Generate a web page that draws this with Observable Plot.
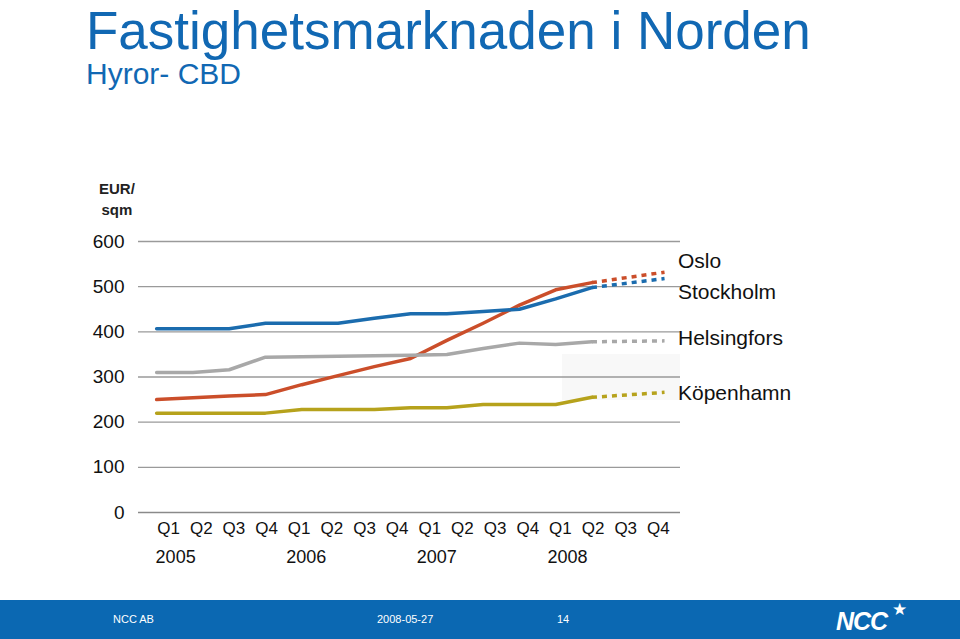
<!DOCTYPE html>
<html>
<head>
<meta charset="utf-8">
<script src="https://cdn.jsdelivr.net/npm/d3@7"></script>
<script src="https://cdn.jsdelivr.net/npm/@observablehq/plot@0.6"></script>
<style>
  html, body { margin: 0; padding: 0; background: #fff; }
  #page { position: relative; width: 960px; height: 639px; overflow: hidden; font-family: "Liberation Sans", Arial, Helvetica, sans-serif; }
  .abs { position: absolute; white-space: nowrap; }
  #title { left: 86px; top: 4px; font-size: 53px; line-height: 53px; color: #1168b3; }
  #subtitle { left: 86px; top: 58px; font-size: 30px; line-height: 32px; color: #1168b3; }
  #unit { left: 99px; top: 178px; font-size: 15px; font-weight: bold; color: #222; line-height: 21px; text-align: center; }
  #shade { left: 562px; top: 354px; width: 118px; height: 46px; background: #f8f8f8; }
  #chart { left: 0; top: 160px; }
  .leg { font-size: 21px; color: #111; left: 678px; }
  #footer { left: 0; top: 600px; width: 960px; height: 39px; background: #0b68b2; color: #fff; }
  #footer .ft { position: absolute; top: 13px; font-size: 11px; }
  #logo { position: absolute; left: 836px; top: 7px; font-size: 25px; line-height: 28px; font-weight: bold; font-style: italic; letter-spacing: -1px; }
  #star { position: absolute; left: 892px; top: 1px; font-size: 17px; line-height: 17px; }
</style>
</head>
<body>
<div id="page">
  <div id="title" class="abs">Fastighetsmarknaden i Norden</div>
  <div id="subtitle" class="abs">Hyror- CBD</div>
  <div id="unit" class="abs">EUR/<br>sqm</div>
  <div id="shade" class="abs"></div>
  <div id="chart" class="abs"></div>
  <div class="abs leg" style="top:249px">Oslo</div>
  <div class="abs leg" style="top:280px">Stockholm</div>
  <div class="abs leg" style="top:326px">Helsingfors</div>
  <div class="abs leg" style="top:381px">Köpenhamn</div>
  <div id="footer" class="abs">
    <span class="ft" style="left:113px">NCC AB</span>
    <span class="ft" style="left:377px">2008-05-27</span>
    <span class="ft" style="left:557px">14</span>
    <span id="logo">NCC</span><span id="star">★</span>
  </div>
</div>
<script>
// ---- data (quarter index 0 = Q1 2005) ----
const quarterIdx = [0,1,2,3,4,5,6,7,8,9,10,11,12];
const oslo        = [250,254,258,261,283,303,323,341,381,419,459,493,509];
const stockholm   = [407,407,407,419,419,419,430,440,440,445,450,473,498];
const helsingfors = [310,310,316,344,345,346,347,348,350,363,375,372,378];
const kopenhamn   = [220,220,220,220,228,228,228,232,232,239,239,239,255];
// forecast (dotted) from Q1 2008 onward
const forecastIdx = [12,14];
const osloF        = [509,532];
const stockholmF   = [498,518];
const helsingforsF = [378,380];
const kopenhamnF   = [255,266];

const cities = ["Oslo","Stockholm","Helsingfors","Köpenhamn"];
const colors = ["#cb4e2a","#1b6cae","#a8a8a8","#b6a21c"];
const yTicks = [0,100,200,300,400,500,600];
const quarterNames = ["Q1","Q2","Q3","Q4"];
const years = ["2005","2006","2007","2008"];

const series = [oslo, stockholm, helsingfors, kopenhamn];
const seriesF = [osloF, stockholmF, helsingforsF, kopenhamnF];

const actual = [];
series.forEach((vals, s) => vals.forEach((v, i) => actual.push({city: cities[s], q: quarterIdx[i], v})));
const forecast = [];
seriesF.forEach((vals, s) => vals.forEach((v, i) => forecast.push({city: cities[s], q: forecastIdx[i], v})));

// quarter labels are laid out on their own, slightly narrower, spacing (as in the original)
const qLabels = [];
years.forEach((y, yi) => quarterNames.forEach((qn, qi) => {
  const k = yi * 4 + qi;
  qLabels.push({label: qn, pos: 0.33 + 0.9 * k, year: y, first: qi === 0});
}));
const yLabels = qLabels.filter(d => d.first);

const chart = Plot.plot({
  width: 960,
  height: 420,
  marginLeft: 138,
  marginRight: 280,
  marginTop: 81,
  marginBottom: 68,
  style: {background: "transparent", fontFamily: "'Liberation Sans', Arial, sans-serif", color: "#111"},
  x: {domain: [-0.5, 14.44], axis: null},
  y: {domain: [0, 600]},
  color: {domain: cities, range: colors},
  marks: [
    Plot.gridY(yTicks.filter(t => t > 0), {stroke: "#9a9a9a", strokeOpacity: 1, strokeWidth: 1.3}),
    Plot.ruleY([0], {stroke: "#8a8a8a", strokeWidth: 1.5}),
    Plot.axisY(yTicks, {tickSize: 0, tickPadding: 14, fontSize: 19, label: null, fill: "#111"}),
    Plot.line(forecast, {x: "q", y: "v", z: "city", stroke: "city", strokeWidth: 3.5, strokeDasharray: "5,5", strokeLinecap: "butt"}),
    Plot.line(actual, {x: "q", y: "v", z: "city", stroke: "city", strokeWidth: 3.5, strokeLinejoin: "round"}),
    Plot.text(qLabels, {x: "pos", y: () => 0, text: "label", dy: 16, fontSize: 17, fill: "#111"}),
    Plot.text(yLabels, {x: "pos", y: () => 0, text: "year", dy: 45, dx: -13, textAnchor: "start", fontSize: 18, fill: "#111"})
  ]
});
document.getElementById("chart").appendChild(chart);
</script>
</body>
</html>
